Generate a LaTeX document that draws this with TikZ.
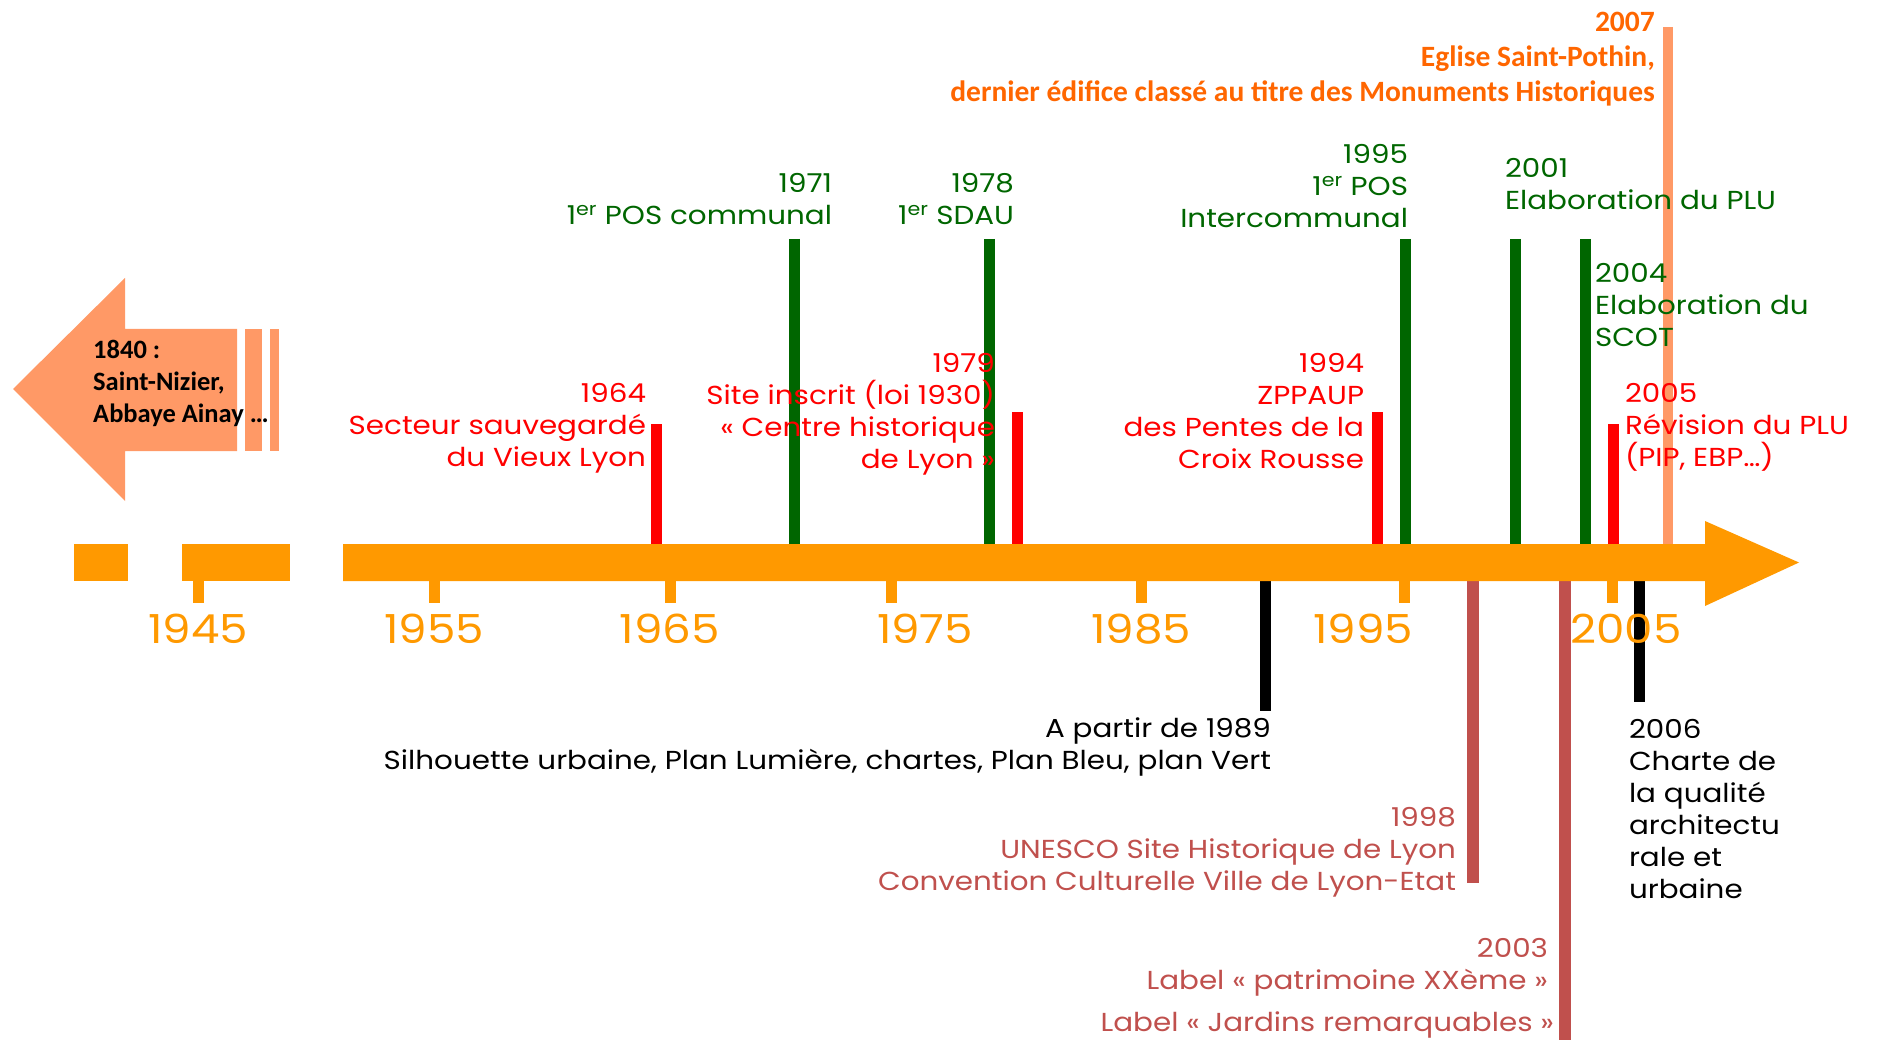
\documentclass[tikz,border=0pt]{standalone}
\usepackage{fontspec}
\setmainfont[FakeStretch=1.13]{Poppins}
\newfontfamily\calib{Carlito}
\definecolor{axisor}{HTML}{FF9900}
\definecolor{grn}{HTML}{006600}
\definecolor{rd}{HTML}{FF0000}
\definecolor{brn}{HTML}{C0504D}
\definecolor{lor}{HTML}{FF9966}
\definecolor{dor}{HTML}{FF6600}
\begin{document}
\begin{tikzpicture}[x=1pt,y=-1pt,
  txt/.style={inner sep=0pt, outer sep=0pt, font=\fontsize{26}{32}\selectfont},
  rtxt/.style={txt, anchor=north east, align=right},
  ltxt/.style={txt, anchor=north west, align=left},
  yr/.style={inner sep=0pt, outer sep=0pt, anchor=north, text=axisor, font=\fontsize{40}{48}\selectfont},
  bar/.style={line width=11pt},
  tick/.style={line width=11pt, draw=axisor}
]
\useasboundingbox (0,0) rectangle (1879,1040);

% ---- left arrow (before 1945) ----
\fill[lor] (13,389) -- (125,278) -- (125,329) -- (237,329) -- (237,451) -- (125,451) -- (125,501) -- cycle;
\fill[lor] (245,329) rectangle (262,451);
\fill[lor] (270,329) rectangle (279,451);
\node[inner sep=0pt, anchor=north west, align=left, font=\calib\bfseries\fontsize{26.5}{32}\selectfont] (t1840) at (93,340) {1840 :\\Saint-Nizier,\\Abbaye Ainay …};

% ---- event bars above ----
\draw[bar, grn] (794,239) -- (794,545);
\draw[bar, grn] (989,239) -- (989,545);
\draw[bar, grn] (1405,239) -- (1405,545);
\draw[bar, grn] (1515,239) -- (1515,545);
\draw[bar, grn] (1585,239) -- (1585,545);
\draw[bar, rd] (656,424) -- (656,545);
\draw[bar, rd] (1017,412) -- (1017,545);
\draw[bar, rd] (1377,412) -- (1377,545);
\draw[bar, rd] (1613,424) -- (1613,545);
\draw[line width=10pt, lor] (1668,27) -- (1668,545);

% ---- event bars below ----
\draw[bar, black] (1265,580) -- (1265,711);
\draw[bar, black] (1639,580) -- (1639,702);
\draw[line width=12pt, brn] (1473,580) -- (1473,883);
\draw[line width=12pt, brn] (1565,580) -- (1565,1040);

% ---- axis ----
\fill[axisor] (74,544) rectangle (128,581);
\fill[axisor] (182,544) rectangle (290,581);
\fill[axisor] (343,544) -- (1705,544) -- (1705,521) -- (1799,562.5) -- (1705,606) -- (1705,581) -- (343,581) -- cycle;
\foreach \x in {198,434,670,891,1141,1404,1612} \draw[tick] (\x,580) -- (\x,603);
\node[yr] (y1945) at (198,614) {1945};
\node[yr] (y1955) at (434,614) {1955};
\node[yr] (y1965) at (670,614) {1965};
\node[yr] (y1975) at (925,614) {1975};
\node[yr] (y1985) at (1141,614) {1985};
\node[yr] (y1995) at (1363,614) {1995};
\node[yr] (y2005) at (1626,614) {2005};

% ---- green labels ----
\node[rtxt, text=grn] (t1971) at (832,173) {1971\\1\textsuperscript{er} POS communal};
\node[rtxt, text=grn] (t1978) at (1014,173) {1978\\1\textsuperscript{er} SDAU};
\node[rtxt, text=grn] (t1995) at (1408,144) {1995\\1\textsuperscript{er} POS\\Intercommunal};
\node[ltxt, text=grn] (t2001) at (1505,158) {2001\\Elaboration du PLU};
\node[ltxt, text=grn] (t2004) at (1595,263) {2004\\Elaboration du\\SCOT};

% ---- red labels ----
\node[rtxt, text=rd] (t1964) at (646,383) {1964\\Secteur sauvegardé\\du Vieux Lyon};
\node[rtxt, text=rd] (t1979) at (995,353) {1979\\Site inscrit (loi 1930)\\« Centre historique\\de Lyon »};
\node[rtxt, text=rd] (t1994) at (1364,353) {1994\\ZPPAUP\\des Pentes de la\\Croix Rousse};
\node[ltxt, text=rd] (t2005) at (1625,383) {2005\\Révision du PLU\\(PIP, EBP…)};

% ---- 2007 ----
\node[inner sep=0pt, anchor=north east, align=right, text=dor, font=\calib\bfseries\fontsize{29.5}{35}\selectfont] (t2007) at (1655,12) {2007\\Eglise Saint-Pothin,\\dernier édifice classé au titre des Monuments Historiques};

% ---- black labels ----
\node[rtxt, text=black] (t1989) at (1271,718) {A partir de 1989\\Silhouette urbaine, Plan Lumière, chartes, Plan Bleu, plan Vert};
\node[ltxt, text=black] (t2006) at (1629,719) {2006\\Charte de\\la qualité\\architectu\\rale et\\urbaine};

% ---- brown labels ----
\node[rtxt, text=brn] (t1998) at (1456,807) {1998\\UNESCO Site Historique de Lyon\\Convention Culturelle Ville de Lyon-Etat};
\node[rtxt, text=brn] (t2003) at (1548,938) {2003\\Label « patrimoine XXème »};
\node[rtxt, text=brn] (t2003b) at (1554,1012) {Label « Jardins remarquables »};
\end{tikzpicture}
\end{document}
